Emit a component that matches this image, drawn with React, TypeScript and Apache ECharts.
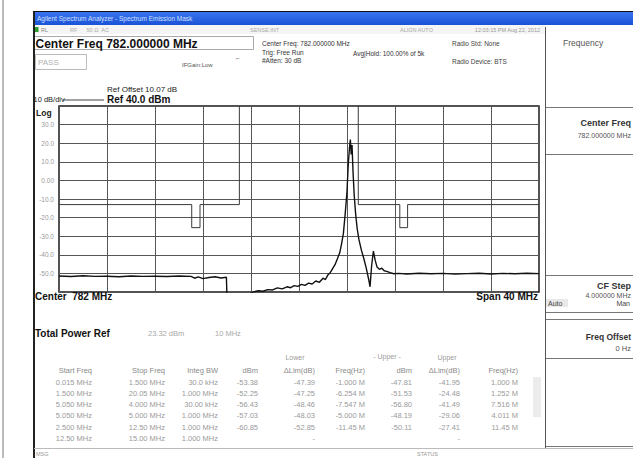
import React, { useEffect, useRef } from "react";
import * as echarts from "echarts";

// ---- trace (MHz, dBm) ----
const traceFreq = [
  762, 763, 764, 765, 766, 767, 768, 769, 770, 771, 772, 773,
  773.3, 773.6, 774, 774.5, 775, 775.5, 775.95, 776.0,
  777.9, 778.2, 778.6, 779.0, 779.4, 779.8, 780.2, 780.6, 781.0, 781.3, 781.6, 781.9,
  782.2, 782.5, 782.8, 783.1, 783.4, 783.7, 784.0, 784.2, 784.4, 784.6, 784.8, 785.0,
  785.2, 785.4, 785.55, 785.7, 785.85, 786.0, 786.1, 786.2, 786.28, 786.35, 786.42,
  786.5, 786.6, 786.72, 786.85, 787.0, 787.2, 787.4, 787.6, 787.8, 787.92, 788.05,
  788.2, 788.35, 788.5, 788.7, 788.9, 789.1, 789.3, 789.6, 789.9, 790.3, 791, 792,
  793, 794, 795, 796, 797, 798, 799, 800, 801, 802,
];
const traceLevel = [
  -51.4, -51.7, -51.3, -51.6, -51.5, -51.8, -51.4, -51.6, -51.5, -51.7, -51.4, -51.6,
  -52.6, -51.9, -52.8, -52.2, -51.8, -52.5, -52.1, -63,
  -61, -59.9, -59.3, -59.6, -58.7, -58.9, -57.8, -58.3, -57.2, -57.7, -56.6, -57.0,
  -55.9, -56.4, -55.2, -55.7, -54.1, -54.8, -52.6, -53.3, -50.9, -49.6, -47.4, -45.3,
  -42.1, -38.8, -34.0, -28.5, -18.0, -6.0, 8.0, 17.0, 22.0, 14.0, 19.0,
  5.0, -8.0, -18.0, -26.0, -32.0, -37.5, -42.0, -47.0, -53.0, -57.2, -46.0,
  -38.0, -43.0, -46.5, -47.8, -47.2, -48.6, -48.9, -49.6, -50.2, -50.0, -50.3, -49.9,
  -50.2, -50.0, -50.4, -50.1, -49.9, -50.3, -50.0, -50.2, -49.9, -50.1,
];

// ---- upper limit mask (null breaks the line) ----
const maskFreq = [762, 773.06, 773.06, 773.75, 773.75, 777.03, 777.03, null, 786.94, 786.94, 790.4, 790.4, 791.05, 791.05, 802];
const maskLevel = [-13, -13, -25.4, -25.4, -13, -13, 40, null, 40, -13, -13, -25.4, -25.4, -13, -13];

// ---- axes ----
const xMin = 762;
const xMax = 802;
const xStep = 4;
const yMin = -60;
const yMax = 40;
const yStep = 10;
const yTickLabels: Record<string, string> = {
  "30": "30.0", "20": "20.0", "10": "10.0", "0": "0.00", "-10": "-10.0",
  "-20": "-20.0", "-30": "-30.0", "-40": "-40.0", "-50": "-50.0",
};

// ---- results table ----
const tableTop = ["Lower", "- Upper -", "Upper"];
const tableHead = ["Start Freq", "Stop Freq", "Integ BW", "dBm", "ΔLim(dB)", "Freq(Hz)", "dBm", "ΔLim(dB)", "Freq(Hz)"];
const startFreqs = ["0.015 MHz", "1.500 MHz", "5.050 MHz", "5.050 MHz", "2.500 MHz", "12.50 MHz"];
const stopFreqs = ["1.500 MHz", "20.05 MHz", "4.000 MHz", "5.000 MHz", "12.50 MHz", "15.00 MHz"];
const integBWs = ["30.0 kHz", "1.000 MHz", "30.00 kHz", "1.000 MHz", "1.000 MHz", "1.000 MHz"];
const lowerDbm = ["-53.38", "-52.25", "-56.43", "-57.03", "-60.85", ""];
const lowerDelta = ["-47.39", "-47.25", "-48.46", "-48.03", "-52.85", "-"];
const lowerFreq = ["-1.000 M", "-6.254 M", "-7.547 M", "-5.000 M", "-11.45 M", ""];
const upperDbm = ["-47.81", "-51.53", "-56.80", "-48.19", "-50.11", ""];
const upperDelta = ["-41.95", "-24.48", "-41.49", "-29.06", "-27.41", "-"];
const upperFreq = ["1.000 M", "1.252 M", "7.516 M", "4.011 M", "11.45 M", ""];

const FONT = '"Liberation Sans", Arial, sans-serif';

function T(text: string, x: number, y: number, size: number, color: string, opts: any = {}) {
  const align = opts.align || "left";
  return {
    type: "text",
    silent: true,
    z: 10,
    style: {
      text,
      x,
      y,
      fill: color,
      font: `${opts.bold ? "bold " : ""}${size}px ${FONT}`,
      textAlign: align,
      align,
      textVerticalAlign: "middle",
      verticalAlign: "middle",
    },
  };
}
function R(x: number, y: number, w: number, h: number, stroke: string, fill: any = "none", lw = 1) {
  return {
    type: "rect",
    silent: true,
    z: 5,
    shape: { x, y, width: w, height: h },
    style: { fill, stroke, lineWidth: lw },
  };
}
function L(x1: number, y1: number, x2: number, y2: number, stroke: string, lw = 1) {
  return {
    type: "line",
    silent: true,
    z: 6,
    shape: { x1, y1, x2, y2 },
    style: { stroke, lineWidth: lw },
  };
}

export default function App() {
  const ref = useRef<HTMLDivElement>(null);
  useEffect(() => {
    if (!ref.current) return;
    const chart = echarts.init(ref.current, null, { renderer: "svg" });

    const trace = traceFreq.map((f, i) => [f, traceLevel[i]]);
    const mask = maskFreq.map((f, i) => (f === null ? [null, null] : [f, maskLevel[i]]));

    const cols = [startFreqs, stopFreqs, integBWs, lowerDbm, lowerDelta, lowerFreq, upperDbm, upperDelta, upperFreq];
    const colRight = [92, 165, 218, 258, 315, 365, 412, 460, 518];
    const rowY = [382, 393, 404, 415.5, 427, 438];
    const tableEls: any[] = [];
    tableHead.forEach((h, i) => tableEls.push(T(h, colRight[i], 370.5, 7.5, "#8a8a8a", { align: "right" })));
    tableEls.push(T(tableTop[0], 295, 357, 7, "#9a9a9a", { align: "center" }));
    tableEls.push(T(tableTop[1], 387, 356, 7, "#9a9a9a", { align: "center" }));
    tableEls.push(T(tableTop[2], 447, 357, 7, "#9a9a9a", { align: "center" }));
    cols.forEach((col, ci) =>
      col.forEach((v, ri) => {
        if (v) tableEls.push(T(v, colRight[ci], rowY[ri], 7.5, "#9a9a9a", { align: "right" }));
      })
    );

    const graphics: any[] = [
      // far left thin line
      L(3, 0, 3, 458, "#777", 1),
      // title bar
      {
        type: "rect", silent: true, z: 4,
        shape: { x: 33, y: 12, width: 600, height: 13 },
        style: {
          fill: new echarts.graphic.LinearGradient(0, 0, 0, 1, [
            { offset: 0, color: "#3b74f0" },
            { offset: 1, color: "#1a52d6" },
          ]),
        },
      },
      L(33, 11.5, 633, 11.5, "#111", 1),
      T("Agilent Spectrum Analyzer - Spectrum Emission Mask", 37, 18.5, 6.5, "#cfe0ff"),
      // toolbar row
      R(33, 25, 512, 9, "none", "#f5f5f5", 0),
      R(34.5, 27, 4, 5, "none", "#2c9a2c", 0),
      T("RL", 41, 29.5, 5.5, "#888"),
      T("RF      50 Ω  AC", 70, 29.5, 5.5, "#aaa"),
      T("SENSE:INT", 250, 29.5, 5.5, "#aaa"),
      T("ALIGN AUTO", 400, 29.5, 5.5, "#aaa"),
      T("12:03:15 PM Aug 22, 2012", 540, 29.5, 5.5, "#999", { align: "right" }),
      // window left border
      L(34, 12, 34, 458, "#222", 2),
      // center freq box
      R(34.5, 36.5, 219, 13, "#aaa", "#fff", 1),
      T("Center Freq 782.000000 MHz", 35.5, 44, 12, "#111", { bold: true }),
      // pass box
      R(35.5, 54.5, 51, 15, "#bbb", "#fff", 1),
      T("PASS", 38, 62, 8, "#b0b0b0"),
      T("IFGain:Low", 182, 65, 6, "#555"),
      T("⌐", 236, 58, 6, "#777"),
      // middle info
      T("Center Freq: 782.000000 MHz", 262, 43.5, 6.5, "#333"),
      T("Trig: Free Run", 262, 52, 6.5, "#333"),
      T("Avg|Hold: 100.00% of 5k", 353, 53.5, 6.5, "#333"),
      T("#Atten: 30 dB", 262, 60.5, 6.5, "#333"),
      T("Radio Std: None", 452, 43.5, 6.5, "#444"),
      T("Radio Device: BTS", 452, 61, 6.5, "#444"),
      // ref labels
      T("Ref Offset 10.07 dB", 107, 89, 8, "#222"),
      T("10 dB/div", 33.5, 99.5, 7.5, "#222"),
      L(63, 100, 104, 100, "#444", 1),
      T("Ref 40.0 dBm", 107, 99.5, 10, "#111", { bold: true }),
      T("Log", 36, 113, 8.5, "#222", { bold: true }),
      // under plot
      T("Center  782 MHz", 35, 296, 10, "#111", { bold: true }),
      T("Span 40 MHz", 538, 296, 10, "#111", { bold: true, align: "right" }),
      T("Total Power Ref", 35, 333.5, 10, "#111", { bold: true }),
      T("23.32 dBm", 148, 333.5, 7.5, "#a8a8a8"),
      T("10 MHz", 215, 333.5, 7.5, "#a8a8a8"),
      ...tableEls,
      // table scroll bar
      R(533, 377, 8, 40, "none", "#ececec", 0),
      // right panel
      L(545.5, 27, 545.5, 448, "#555", 1),
      T("Frequency", 563, 43, 8.5, "#555"),
      R(545.5, 107.5, 95, 47, "#777", "#fff", 1),
      T("Center Freq", 631, 123, 9, "#333", { bold: true, align: "right" }),
      T("782.000000 MHz", 631, 135, 7, "#555", { align: "right" }),
      R(545.5, 154.5, 95, 121, "#777", "#fff", 1),
      R(545.5, 275.5, 95, 37, "#777", "#fff", 1),
      T("CF Step", 631, 286, 9, "#333", { bold: true, align: "right" }),
      T("4.000000 MHz", 631, 295, 7, "#555", { align: "right" }),
      R(546, 299, 22, 8, "none", "#e8e8e8", 0),
      T("Auto", 548, 303, 7, "#444"),
      T("Man", 630, 303, 7, "#444", { align: "right" }),
      R(545.5, 319.5, 95, 39, "#777", "#fff", 1),
      T("Freq Offset", 631, 337, 8.5, "#333", { bold: true, align: "right" }),
      T("0 Hz", 631, 348, 7.5, "#555", { align: "right" }),
      R(545.5, 358.5, 95, 88, "#777", "#fff", 1),
      // status bar
      L(34, 448.5, 633, 448.5, "#bbb", 1),
      T("MSG", 36, 453.5, 5.5, "#999"),
      T("STATUS", 417, 453.5, 5.5, "#999"),
    ];

    chart.setOption({
      animation: false,
      backgroundColor: "#ffffff",
      grid: {
        left: 59,
        top: 106,
        width: 480,
        height: 186,
        show: true,
        borderColor: "#1a1a1a",
        borderWidth: 1.5,
        backgroundColor: "#fff",
      },
      xAxis: {
        type: "value",
        min: xMin,
        max: xMax,
        interval: xStep,
        axisLine: { show: false },
        axisTick: { show: false },
        axisLabel: { show: false },
        splitLine: { show: true, lineStyle: { color: "#555", width: 1 } },
      },
      yAxis: {
        type: "value",
        min: yMin,
        max: yMax,
        interval: yStep,
        axisLine: { show: false },
        axisTick: { show: false },
        axisLabel: {
          show: true,
          margin: 5,
          fontSize: 6.5,
          color: "#9a9a9a",
          fontFamily: FONT,
          formatter: (v: number) => yTickLabels[String(v)] || "",
        },
        splitLine: { show: true, lineStyle: { color: "#555", width: 1 } },
      },
      series: [
        {
          type: "line",
          data: mask,
          symbol: "none",
          connectNulls: false,
          lineStyle: { color: "#3a3a3a", width: 1 },
          z: 3,
        },
        {
          type: "line",
          data: trace,
          symbol: "none",
          lineStyle: { color: "#111", width: 1.4 },
          z: 4,
        },
      ],
      graphic: graphics,
    });
    return () => chart.dispose();
  }, []);
  return (
    <div
      ref={ref}
      style={{ position: "fixed", left: 0, top: 0, width: 633, height: 458, background: "#fff" }}
    />
  );
}
